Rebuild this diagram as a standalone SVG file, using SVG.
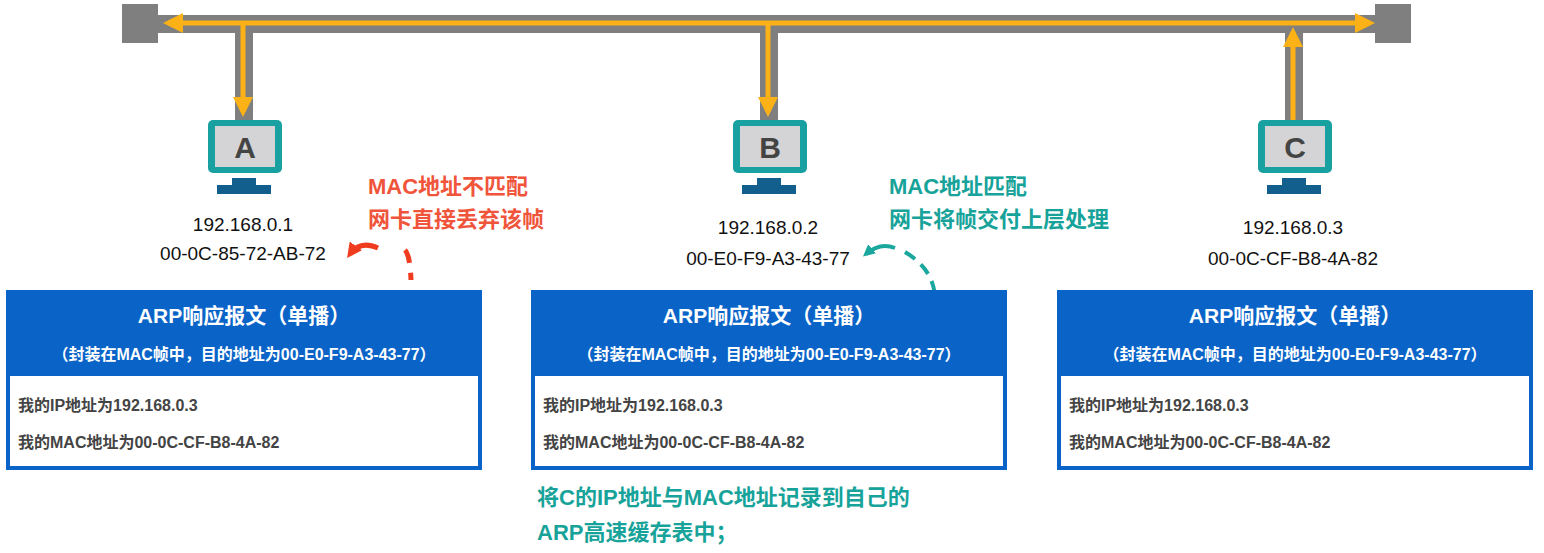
<svg xmlns="http://www.w3.org/2000/svg" width="1544" height="553" viewBox="0 0 1544 553">
<defs>
<style>
.ip{font-family:"Liberation Sans",Arial,sans-serif;font-size:19px;fill:#111;text-anchor:middle}
.h1{font-family:"Liberation Sans","Noto Sans CJK SC",sans-serif;font-size:21px;font-weight:bold;fill:#fff;text-anchor:middle}
.h2{font-family:"Liberation Sans","Noto Sans CJK SC",sans-serif;font-size:16px;font-weight:bold;fill:#fff;text-anchor:middle}
.b{font-family:"Liberation Sans","Noto Sans CJK SC",sans-serif;font-size:16px;font-weight:bold;fill:#444}
.red{font-family:"Liberation Sans","Noto Sans CJK SC",sans-serif;font-size:22px;font-weight:bold;fill:#f0543a}
.teal{font-family:"Liberation Sans","Noto Sans CJK SC",sans-serif;font-size:22px;font-weight:bold;fill:#17a39a}
.ltr{font-family:"Liberation Sans",Arial,sans-serif;font-size:30px;font-weight:bold;fill:#444;text-anchor:middle}
</style>
<marker id="oa" markerWidth="4" markerHeight="4" refX="3" refY="2" orient="auto" markerUnits="strokeWidth"><path d="M0,0 L4,2 L0,4 Z" fill="#fcb216"/></marker>
<marker id="ra" markerWidth="3" markerHeight="3" refX="2" refY="1.5" orient="auto" markerUnits="strokeWidth"><path d="M0,0 L3,1.5 L0,3 Z" fill="#f03c1e"/></marker>
<marker id="ta" markerWidth="3" markerHeight="3" refX="2" refY="1.5" orient="auto" markerUnits="strokeWidth"><path d="M0,0 L3,1.5 L0,3 Z" fill="#1aa79d"/></marker>
<g id="mon"><rect x="-36" y="0" width="74" height="53" rx="5" fill="#19a0a0"/><rect x="-29" y="6" width="60" height="41" fill="#d4d4d6"/><rect x="-12" y="58" width="24" height="8" fill="#125f8e"/><rect x="-27" y="65" width="54" height="9" fill="#125f8e"/></g>
</defs>
<rect width="1544" height="553" fill="#fff"/>
<g id="connectors">
<rect x="122" y="4" width="36" height="39" fill="#7f7f7f"/>
<rect x="1375" y="4" width="36" height="39" fill="#7f7f7f"/>
<rect x="156" y="15" width="1222" height="18" fill="#7f7f7f"/>
<rect x="235" y="24" width="18" height="96" fill="#7f7f7f"/>
<rect x="760" y="24" width="18" height="96" fill="#7f7f7f"/>
<rect x="1285" y="24" width="18" height="96" fill="#7f7f7f"/>
<line x1="768" y1="23" x2="168" y2="23" stroke="#fcb216" stroke-width="5" marker-end="url(#oa)"/>
<line x1="768" y1="23" x2="1370" y2="23" stroke="#fcb216" stroke-width="5" marker-end="url(#oa)"/>
<polyline points="243,23 243,112" fill="none" stroke="#fcb216" stroke-width="5" marker-end="url(#oa)"/>
<polyline points="768,23 768,112" fill="none" stroke="#fcb216" stroke-width="5" marker-end="url(#oa)"/>
<polyline points="1293,120 1293,32" fill="none" stroke="#fcb216" stroke-width="5" marker-end="url(#oa)"/>
<path d="M405,250 Q410,255 411,280" fill="none" stroke="#f03c1e" stroke-width="5" stroke-dasharray="14,10"/>
<path d="M378,248 Q360,240 350,254" fill="none" stroke="#f03c1e" stroke-width="5" marker-end="url(#ra)"/>
<path d="M411,290 Q411,315 392,334" fill="none" stroke="#f03c1e" stroke-width="5" marker-end="url(#ra)"/>
<path d="M905,252 Q935,270 935,300 Q932,325 914,340" fill="none" stroke="#1aa79d" stroke-width="4" stroke-dasharray="12,8" marker-end="url(#ta)"/>
<path d="M895,248 Q880,242 866,254" fill="none" stroke="#1aa79d" stroke-width="4" marker-end="url(#ta)"/>
</g>
<g id="nodeA"><use href="#mon" x="244" y="120"/><text class="ltr" x="245" y="158">A</text>
<text class="ip" x="243" y="231">192.168.0.1</text><text class="ip" x="243" y="260">00-0C-85-72-AB-72</text></g>
<g id="nodeB"><use href="#mon" x="769" y="120"/><text class="ltr" x="770" y="158">B</text>
<text class="ip" x="768" y="234">192.168.0.2</text><text class="ip" x="768" y="265">00-E0-F9-A3-43-77</text></g>
<g id="nodeC"><use href="#mon" x="1294" y="120"/><text class="ltr" x="1295" y="158">C</text>
<text class="ip" x="1293" y="234">192.168.0.3</text><text class="ip" x="1293" y="265">00-0C-CF-B8-4A-82</text></g>
<g id="noteA"><text class="red" x="368" y="194">MAC地址不匹配</text><text class="red" x="368" y="227">网卡直接丢弃该帧</text></g>
<g id="noteB"><text class="teal" x="889" y="194">MAC地址匹配</text><text class="teal" x="889" y="227">网卡将帧交付上层处理</text></g>
<g id="noteB2"><text class="teal" x="537" y="505">将C的IP地址与MAC地址记录到自己的</text><text class="teal" x="537" y="540">ARP高速缓存表中；</text></g>
<g id="boxA"><rect x="6" y="290" width="476" height="180" fill="#0a64c8"/><rect x="10" y="376" width="468" height="90" fill="#fff"/>
<text class="h1" x="244" y="323">ARP响应报文（单播）</text><text class="h2" x="244" y="360">（封装在MAC帧中，目的地址为00-E0-F9-A3-43-77）</text>
<text class="b" x="18" y="411">我的IP地址为192.168.0.3</text><text class="b" x="18" y="448">我的MAC地址为00-0C-CF-B8-4A-82</text></g>
<g id="boxB"><rect x="531" y="290" width="476" height="180" fill="#0a64c8"/><rect x="535" y="376" width="468" height="90" fill="#fff"/>
<text class="h1" x="769" y="323">ARP响应报文（单播）</text><text class="h2" x="769" y="360">（封装在MAC帧中，目的地址为00-E0-F9-A3-43-77）</text>
<text class="b" x="543" y="411">我的IP地址为192.168.0.3</text><text class="b" x="543" y="448">我的MAC地址为00-0C-CF-B8-4A-82</text></g>
<g id="boxC"><rect x="1057" y="290" width="476" height="180" fill="#0a64c8"/><rect x="1061" y="376" width="468" height="90" fill="#fff"/>
<text class="h1" x="1295" y="323">ARP响应报文（单播）</text><text class="h2" x="1295" y="360">（封装在MAC帧中，目的地址为00-E0-F9-A3-43-77）</text>
<text class="b" x="1069" y="411">我的IP地址为192.168.0.3</text><text class="b" x="1069" y="448">我的MAC地址为00-0C-CF-B8-4A-82</text></g>
</svg>
